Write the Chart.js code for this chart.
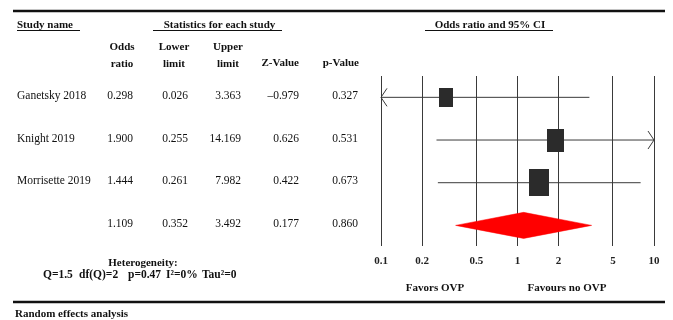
<!DOCTYPE html>
<html>
<head>
<meta charset="utf-8">
<script src="https://cdn.jsdelivr.net/npm/chart.js@4.4.1/dist/chart.umd.min.js"></script>
<style>
  html, body { margin: 0; background: #fff; }
  canvas { display: block; }
</style>
</head>
<body>
<canvas id="forest" width="673" height="320"></canvas>
<script>
// study data
const studies = ["Ganetsky 2018", "Knight 2019", "Morrisette 2019"];
const oddsRatio = [0.298, 1.900, 1.444];
const lowerLimit = [0.026, 0.255, 0.261];
const upperLimit = [3.363, 14.169, 7.982];
const zValue = [-0.979, 0.626, 0.422];
const pValue = [0.327, 0.531, 0.673];

// pooled (random effects) row
const pooledOR = 1.109;
const pooledLower = 0.352;
const pooledUpper = 3.492;
const pooledZ = 0.177;
const pooledP = 0.860;

const xTicks = [0.1, 0.2, 0.5, 1, 2, 5, 10];
const heterogeneity = ["Q=1.5", "df(Q)=2", "p=0.47", "I\u00B2=0%", "Tau\u00B2=0"];

const serif = "'Liberation Serif', 'Times New Roman', serif";
const ink = "#111";
const lineGrey = "#3a3a3a";

// inverse-variance weight from the CI -> box size
const weights = studies.map((s, i) => {
  const se = (Math.log(upperLimit[i]) - Math.log(lowerLimit[i])) / 3.92;
  return 1 / (se * se);
});

function makeBox(w, h) {
  const c = document.createElement("canvas");
  c.width = Math.round(w);
  c.height = Math.round(h);
  const g = c.getContext("2d");
  g.fillStyle = "#2b2b2b";
  g.fillRect(0, 0, c.width, c.height);
  return c;
}
const boxes = weights.map(w => makeBox(17.5 * Math.sqrt(w), 23.3 * Math.sqrt(w)));

const pooledRow = studies.length;
const dh = 0.305;

const datasets = [];
datasets.push({
  data: studies.map((s, i) => ({ x: oddsRatio[i], y: i })),
  pointStyle: boxes,
  pointRadius: 10,
  showLine: false
});
studies.forEach((s, i) => {
  datasets.push({
    data: [{ x: lowerLimit[i], y: i }, { x: upperLimit[i], y: i }],
    showLine: true,
    borderColor: lineGrey,
    borderWidth: 1,
    pointRadius: 0
  });
});
datasets.push({
  data: [
    { x: pooledLower, y: pooledRow },
    { x: pooledOR, y: pooledRow - dh },
    { x: pooledUpper, y: pooledRow },
    { x: pooledOR, y: pooledRow + dh },
    { x: pooledLower, y: pooledRow }
  ],
  showLine: true,
  fill: "shape",
  backgroundColor: "#ff0000",
  borderColor: "#ff0000",
  borderWidth: 0.5,
  pointRadius: 0,
  tension: 0
});

function fmt(v) {
  return v.toFixed(3).replace("-", "\u2013");
}

const arrows = {
  id: "arrows",
  afterDatasetsDraw(chart) {
    const { ctx, scales: { x, y } } = chart;
    ctx.save();
    ctx.strokeStyle = lineGrey;
    ctx.lineWidth = 1;
    studies.forEach((s, i) => {
      const py = y.getPixelForValue(i);
      if (lowerLimit[i] < x.min) {
        const px = x.getPixelForValue(x.min);
        ctx.beginPath();
        ctx.moveTo(px + 6, py - 9); ctx.lineTo(px, py); ctx.lineTo(px + 6, py + 9);
        ctx.stroke();
      }
      if (upperLimit[i] > x.max) {
        const px = x.getPixelForValue(x.max);
        ctx.beginPath();
        ctx.moveTo(px - 6, py - 9); ctx.lineTo(px, py); ctx.lineTo(px - 6, py + 9);
        ctx.stroke();
      }
    });
    ctx.restore();
  }
};

const table = {
  id: "table",
  afterDraw(chart) {
    const { ctx, scales: { y } } = chart;
    ctx.save();
    ctx.fillStyle = ink;
    ctx.strokeStyle = ink;
    ctx.textBaseline = "middle";

    // rules
    ctx.lineWidth = 2.5;
    ctx.beginPath();
    ctx.moveTo(13, 11); ctx.lineTo(665, 11);
    ctx.moveTo(13, 302); ctx.lineTo(665, 302);
    ctx.stroke();

    // group headers
    ctx.font = "bold 11px " + serif;
    ctx.textAlign = "left";
    ctx.fillText("Study name", 17, 25);
    ctx.textAlign = "center";
    ctx.fillText("Statistics for each study", 219.5, 25);
    ctx.fillText("Odds ratio and 95% CI", 490, 25);
    ctx.lineWidth = 1;
    ctx.beginPath();
    ctx.moveTo(17, 30.5); ctx.lineTo(80, 30.5);
    ctx.moveTo(153, 30.5); ctx.lineTo(282, 30.5);
    ctx.moveTo(425, 30.5); ctx.lineTo(553, 30.5);
    ctx.stroke();

    // column headers
    ctx.fillText("Odds", 122, 47);
    ctx.fillText("ratio", 122, 64);
    ctx.fillText("Lower", 174, 47);
    ctx.fillText("limit", 174, 64);
    ctx.fillText("Upper", 228, 47);
    ctx.fillText("limit", 228, 64);
    ctx.textAlign = "right";
    ctx.fillText("Z-Value", 299, 63);
    ctx.fillText("p-Value", 359, 63);

    // rows
    ctx.font = "11.5px " + serif;
    const rows = studies.map((s, i) => [s, oddsRatio[i], lowerLimit[i], upperLimit[i], zValue[i], pValue[i]]);
    rows.push(["", pooledOR, pooledLower, pooledUpper, pooledZ, pooledP]);
    const rights = [133, 188, 241, 299, 358];
    rows.forEach((r, i) => {
      const py = y.getPixelForValue(i) - 1.5;
      ctx.textAlign = "left";
      ctx.fillText(r[0], 17, py);
      ctx.textAlign = "right";
      for (let k = 1; k < r.length; k++) ctx.fillText(fmt(r[k]), rights[k - 1], py);
    });

    // heterogeneity
    ctx.font = "bold 11px " + serif;
    ctx.textAlign = "center";
    ctx.fillText("Heterogeneity:", 143, 263);
    ctx.font = "bold 11.5px " + serif;
    ctx.textAlign = "left";
    const hx = [43, 79, 128, 166, 202];
    heterogeneity.forEach((t, i) => ctx.fillText(t, hx[i], 275.5));

    // favours labels
    ctx.font = "bold 11px " + serif;
    ctx.textAlign = "center";
    ctx.fillText("Favors OVP", 435, 288);
    ctx.fillText("Favours no OVP", 567, 288);

    ctx.textAlign = "left";
    ctx.fillText("Random effects analysis", 15, 314);
    ctx.restore();
  }
};

new Chart(document.getElementById("forest"), {
  type: "scatter",
  data: { datasets },
  options: {
    responsive: false,
    animation: false,
    layout: { padding: { left: 381, right: 19, top: 76, bottom: 44.5 } },
    plugins: { legend: { display: false }, tooltip: { enabled: false } },
    scales: {
      x: {
        type: "logarithmic",
        min: 0.1,
        max: 10,
        afterBuildTicks: s => { s.ticks = xTicks.map(v => ({ value: v })); },
        ticks: {
          callback: v => String(v),
          autoSkip: false,
          maxRotation: 0,
          padding: 8,
          color: "#222",
          font: { family: serif, size: 11, weight: "bold" }
        },
        grid: { color: lineGrey, lineWidth: 1, drawTicks: false },
        border: { display: false }
      },
      y: {
        type: "linear",
        display: false,
        reverse: true,
        min: -0.5,
        max: 3.49
      }
    }
  },
  plugins: [arrows, table]
});
</script>
</body>
</html>
